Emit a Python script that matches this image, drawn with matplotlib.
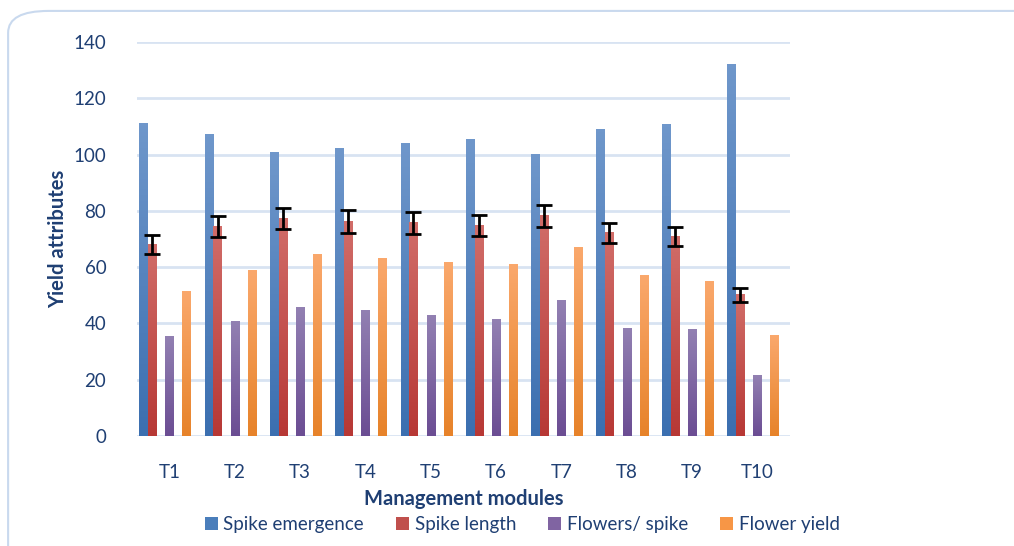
import matplotlib.pyplot as plt
import numpy as np
from matplotlib.colors import LinearSegmentedColormap
from matplotlib.patches import FancyBboxPatch

plt.rcParams['font.family'] = ['Lato', 'DejaVu Sans']

# data
modules = ['T1', 'T2', 'T3', 'T4', 'T5', 'T6', 'T7', 'T8', 'T9', 'T10']
spike_emergence = [111.2, 107.3, 100.6, 102.0, 104.0, 105.2, 100.2, 109.0, 110.8, 132.2]
spike_length = [68.2, 74.5, 77.3, 76.2, 75.7, 74.7, 78.2, 72.2, 70.8, 50.2]
spike_length_err = [3.4, 3.7, 3.8, 4.0, 4.0, 3.8, 4.0, 3.5, 3.4, 2.5]
flowers_per_spike = [35.4, 40.7, 45.6, 44.7, 42.9, 41.4, 48.1, 38.3, 37.8, 21.6]
flower_yield = [51.3, 58.7, 64.5, 63.1, 61.6, 60.9, 67.1, 56.9, 54.8, 35.7]

series = [
    ('Spike emergence', spike_emergence, -0.40, ('#3B6FB0', '#6F97CB'), '#4A7EBB'),
    ('Spike length', spike_length, -0.265, ('#B73835', '#D16D69'), '#C0504D'),
    ('Flowers/ spike', flowers_per_spike, 0.0, ('#6B4D93', '#9280B2'), '#8064A2'),
    ('Flower yield', flower_yield, 0.26, ('#E7832A', '#FAA86C'), '#F79646'),
]

txt = '#1F3F73'
fig = plt.figure(figsize=(10.14, 5.46), dpi=100)
fig.patches.append(FancyBboxPatch((0.008, -0.05), 1.05, 1.03,
                                  boxstyle='round,pad=0,rounding_size=0.04',
                                  transform=fig.transFigure, fc='white',
                                  ec='#C9D9EE', lw=1.5, zorder=-1))
ax = fig.add_axes([0.135, 0.2015, 0.644, 0.7215])
ax.set_facecolor('none')

x = np.arange(len(modules))
w = 0.125
grad = np.linspace(0, 1, 100).reshape(-1, 1)
for name, vals, off, (c0, c1), lc in series:
    cmap = LinearSegmentedColormap.from_list(name, [c0, c1])
    for xi, v in zip(x, vals):
        ax.imshow(grad, extent=[xi + off - w / 2, xi + off + w / 2, 0, v],
                  origin='lower', aspect='auto', cmap=cmap, zorder=2)
    ax.bar([0], [0], color=lc, label=name)

ax.errorbar(x - 0.265, spike_length, yerr=spike_length_err, fmt='none',
            ecolor='black', elinewidth=2, capsize=6, capthick=2, zorder=3)

ax.set_xlim(-0.5, len(modules) - 0.5)
ax.set_ylim(0, 140)
ax.set_yticks(range(0, 141, 20))
ax.set_xticks(x)
ax.set_xticklabels(modules)
ax.yaxis.grid(True, color='#D8E3F2', lw=2)
ax.set_axisbelow(True)
for s in ax.spines.values():
    s.set_visible(False)
ax.tick_params(length=0, labelsize=13.5, colors=txt)
ax.tick_params(axis='x', pad=20)
ax.tick_params(axis='y', pad=22)
ax.set_xlabel('Management modules', fontsize=14.5, fontweight='bold', color=txt, labelpad=6)
ax.set_ylabel('Yield attributes', fontsize=14.5, fontweight='bold', color=txt, labelpad=4)

leg = ax.legend(loc='upper center', bbox_to_anchor=(0.59, -0.16), ncol=4,
                frameon=False, fontsize=13.5, handlelength=0.7, handleheight=0.7,
                handletextpad=0.3, columnspacing=1.7)
for t in leg.get_texts():
    t.set_color(txt)

fig.savefig('out.png', dpi=100)
